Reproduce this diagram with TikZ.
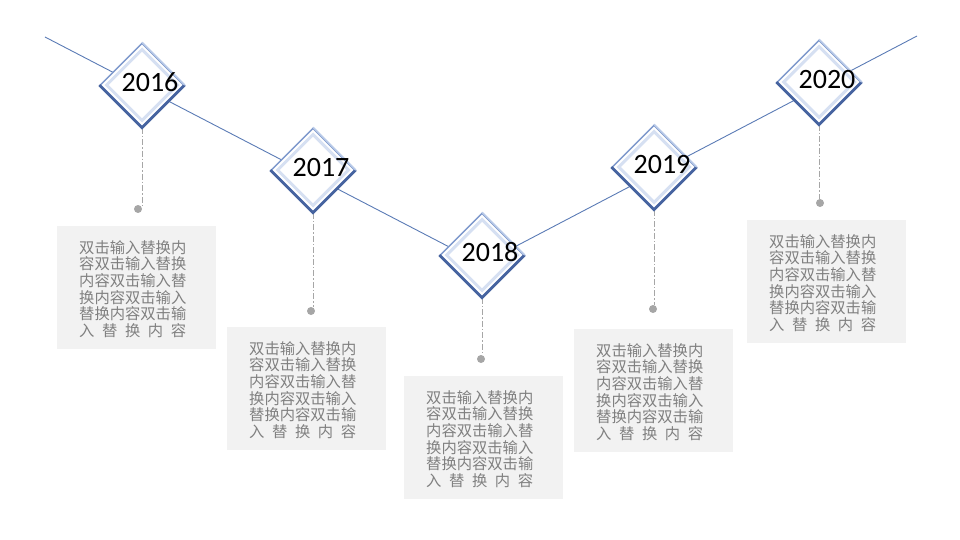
\documentclass[tikz,border=0pt]{standalone}
\usepackage{fontspec}
\setmainfont{Noto Sans CJK SC}
\newfontfamily\yearfont{Carlito}
\usetikzlibrary{shapes.geometric}
\usetikzlibrary{positioning}
\definecolor{lineblue}{HTML}{5A7BB5}
\definecolor{framemid}{HTML}{7D98CC}
\definecolor{framedark}{HTML}{46639F}
\definecolor{framelight}{HTML}{B9CAE8}
\definecolor{frameinner}{HTML}{D6E0F2}
\definecolor{stemgray}{HTML}{A6A6A6}
\definecolor{cardgray}{HTML}{F2F2F2}
\definecolor{textgray}{HTML}{808080}
\newcommand\blurb{双击输入替换内\\容双击输入替换\\内容双击输入替\\换内容双击输入\\替换内容双击输\\\hbox to 107pt{入\hfill 替\hfill 换\hfill 内\hfill 容}}

\begin{document}
\begin{tikzpicture}[x=1pt,y=-1pt,
    year/.style={diamond,minimum width=84pt,minimum height=84pt,inner sep=0pt,fill=white,draw=framemid,line width=1.5pt},
    inner frame/.style={diamond,minimum width=72pt,minimum height=72pt,inner sep=0pt,draw=frameinner,line width=3pt},
    yeartext/.style={font=\yearfont\fontsize{28}{30}\selectfont,text=black,inner sep=0pt},
    stem/.style={draw=stemgray,line width=0.8pt,dash pattern=on 6pt off 2pt on 1.5pt off 2pt},
    pin/.style={circle,fill=stemgray,minimum size=8pt,inner sep=0pt},
    card/.style={anchor=north west,fill=cardgray,minimum width=159pt,minimum height=123pt,inner sep=0pt},
    cardtext/.style={anchor=north west,inner sep=0pt,align=left,text=textgray,font=\fontsize{15.3}{16.7}\selectfont}]

    \useasboundingbox (0,0) rectangle (960,540);

    % the V shaped time line
    \coordinate (lineL) at (45,37);
    \coordinate (lineV) at (482,264);
    \coordinate (lineR) at (917,36);
    \draw [lineblue, line width=0.9pt] (lineL) -- (lineV) -- (lineR);

    % cards with the text
    \node [card] (b16) at (57,226) {};
    \node [card] (b17) at (227,327) {};
    \node [card] (b18) at (404,376) {};
    \node [card] (b19) at (574,329) {};
    \node [card] (b20) at (747,220) {};
    \foreach \y in {16,17,18,19,20}
        \node [cardtext] (t\y) at ([xshift=22pt, yshift=-14pt]b\y.north west) {\blurb};

    % pins
    \node [pin] (p16) at (138,209) {};
    \node [pin] (p17) at (311,311) {};
    \node [pin] (p18) at (481,359) {};
    \node [pin] (p19) at (653,309) {};
    \node [pin] (p20) at (820,203) {};

    % diamonds
    \node [year] (d16) at (142,85) {};
    \node [year] (d17) at (313,170) {};
    \node [year] (d18) at (482,255) {};
    \node [year] (d19) at (654,167) {};
    \node [year] (d20) at (819,82) {};

    \foreach \y in {16,17,18,19,20} {
        \draw [stem] (d\y.south) -- (d\y.south |- p\y.north);
        \node [inner frame] at (d\y.center) {};
        \draw [framedark, line width=2.5pt, line join=miter] (d\y.west) -- (d\y.south) -- (d\y.east);
        \draw [framelight, line width=1.5pt] (d\y.north) -- (d\y.east);
        \node [yeartext] (y\y) at ([xshift=8pt, yshift=2.5pt]d\y.center) {20\y};
    }
\end{tikzpicture}
\end{document}
